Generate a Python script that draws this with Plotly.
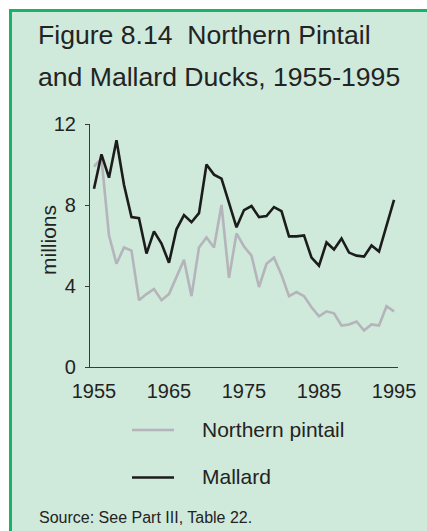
import plotly.graph_objects as go

years = list(range(1955, 1996))
pintail = [9.9, 10.3, 6.5, 5.1, 5.9, 5.75, 3.3, 3.6, 3.85, 3.3, 3.6, 4.45, 5.3, 3.5, 5.9, 6.4,
           5.9, 8.0, 4.4, 6.6, 5.95, 5.5, 3.95, 5.1, 5.4, 4.55, 3.5, 3.7, 3.5, 2.95, 2.5,
           2.75, 2.65, 2.05, 2.1, 2.25, 1.8, 2.1, 2.05, 3.0, 2.75]
mallard = [8.8, 10.5, 9.35, 11.2, 9.0, 7.4, 7.35, 5.6, 6.7, 6.1, 5.15, 6.8, 7.5, 7.15, 7.6, 10.0,
           9.5, 9.3, 8.1, 6.9, 7.75, 7.95, 7.4, 7.45, 7.9, 7.7, 6.45, 6.45, 6.5, 5.4, 5.0,
           6.15, 5.8, 6.35, 5.65, 5.5, 5.45, 6.0, 5.7, 7.0, 8.25]
series_names = ["Northern pintail", "Mallard"]
series_colors = ["#b4b4ba", "#1c1c1c"]
yticks = [0, 4, 8, 12]
xticks = [1955, 1965, 1975, 1985, 1995]

W, H = 427, 531
L, R, T, B = 90, 398, 124, 367


def px(x):
    return (x - L) / (R - L)


def py(y):
    return (B - y) / (B - T)


fig = go.Figure()
for name, vals, col in zip(series_names, [pintail, mallard], series_colors):
    fig.add_trace(go.Scatter(x=years, y=vals, mode="lines", name=name,
                             line=dict(color=col, width=2.6), showlegend=False))

font_fam = "Liberation Sans, Arial, sans-serif"
txt = "#232323"

fig.update_layout(
    width=W, height=H,
    margin=dict(l=L, r=W - R, t=T, b=H - B, pad=0),
    paper_bgcolor="white",
    plot_bgcolor="rgba(0,0,0,0)",
    font=dict(family=font_fam, color=txt, size=20),
    xaxis=dict(range=[1954.47, 1995.53], tickvals=xticks, ticks="", showgrid=False,
               zeroline=False, showline=True, linecolor="#3a3a3a", linewidth=1.2,
               tickfont=dict(size=20), ticklabelstandoff=6),
    yaxis=dict(range=[0, 12], tickvals=yticks, ticks="outside", ticklen=4, tickwidth=1.2,
               tickcolor="#3a3a3a", showgrid=False, zeroline=False, showline=True,
               linecolor="#3a3a3a", linewidth=1.2, tickfont=dict(size=20),
               ticklabelstandoff=5),
)

shapes = [dict(type="rect", xref="paper", yref="paper", x0=px(10.5), x1=px(450), y0=py(560), y1=py(10.5),
               fillcolor="#cfe9db", line=dict(color="#18b26b", width=3), layer="below")]
legend_y = [430, 477.5]
for col, ly in zip(series_colors, legend_y):
    shapes.append(dict(type="line", xref="paper", yref="paper", x0=px(132), x1=px(174),
                       y0=py(ly), y1=py(ly), line=dict(color=col, width=2.6)))
fig.update_layout(shapes=shapes)

ann = [
    dict(text="Figure 8.14  Northern Pintail", x=px(36), y=py(35)),
    dict(text="and Mallard Ducks, 1955-1995", x=px(36), y=py(77)),
]
annotations = []
for a in ann:
    annotations.append(dict(text=a["text"], xref="paper", yref="paper", x=a["x"], y=a["y"],
                            xanchor="left", yanchor="middle", showarrow=False,
                            font=dict(size=26.6, family=font_fam, color=txt)))
for name, ly in zip(series_names, legend_y):
    annotations.append(dict(text=name, xref="paper", yref="paper", x=px(200), y=py(ly - 1),
                            xanchor="left", yanchor="middle", showarrow=False,
                            font=dict(size=21, family=font_fam, color=txt)))
annotations.append(dict(text="millions", xref="paper", yref="paper", x=px(48), y=py(240),
                        xanchor="center", yanchor="middle", textangle=-90, showarrow=False,
                        font=dict(size=21, family=font_fam, color=txt)))
annotations.append(dict(text="Source: See Part III, Table 22.", xref="paper", yref="paper",
                        x=px(37), y=py(517), xanchor="left", yanchor="middle", showarrow=False,
                        font=dict(size=16, family=font_fam, color=txt)))
fig.update_layout(annotations=annotations)

fig.write_html("out.html", config={"displayModeBar": False},
               post_script="document.body.style.margin='0';document.body.style.overflow='hidden';")
